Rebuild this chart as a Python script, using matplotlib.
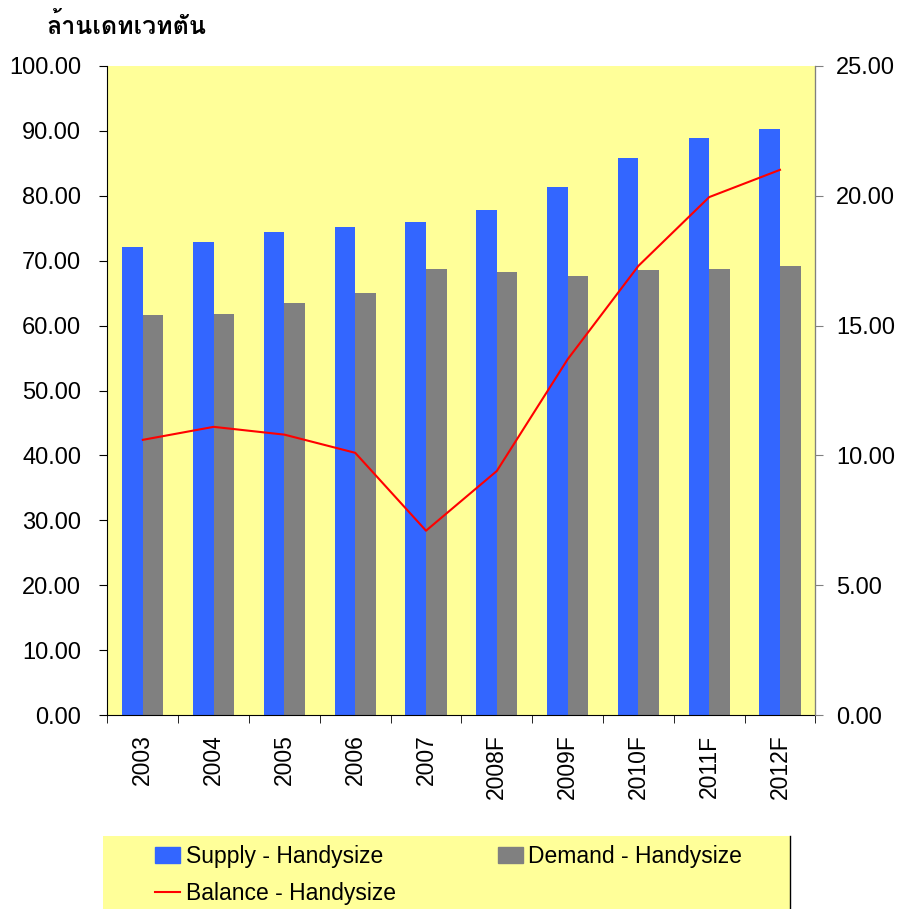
import matplotlib
matplotlib.use("Agg")
import matplotlib.pyplot as plt
from matplotlib import font_manager
from matplotlib.ft2font import FT2Font
from matplotlib.patches import Patch, Rectangle
from matplotlib.lines import Line2D
import numpy as np

years = ["2003", "2004", "2005", "2006", "2007", "2008F", "2009F", "2010F", "2011F", "2012F"]
supply = [72.1, 72.9, 74.4, 75.2, 76.0, 77.8, 81.4, 85.8, 88.9, 90.3]
demand = [61.6, 61.8, 63.5, 65.0, 68.7, 68.3, 67.6, 68.6, 68.7, 69.2]
balance = [10.6, 11.1, 10.8, 10.1, 7.1, 9.4, 13.7, 17.3, 19.95, 21.0]
unit_label = "ล้านเดทเวทตัน"


def thai_font():
    # look for an installed font that has Thai glyphs, bold files first
    found = []
    for f in font_manager.findSystemFonts():
        try:
            ft = FT2Font(f)
            if ft.get_char_index(ord("ล")) and ft.get_char_index(ord("น")):
                found.append(f)
        except Exception:
            pass
    if not found:
        return None
    found.sort(key=lambda f: (0 if "Bold" in f and "Oblique" not in f and "Italic" not in f else 1, len(f)))
    return font_manager.FontProperties(fname=found[0], weight="bold")


plt.rcParams["font.family"] = ["Liberation Sans", "DejaVu Sans"]

fig = plt.figure(figsize=(8.99, 9.09), dpi=100)
ax = fig.add_axes([0.1195, 0.2134, 0.7875, 0.714])
ax2 = ax.twinx()

x = np.arange(len(years))
w = 0.29
ax.bar(x - w / 2, supply, w, color="#3366FF", zorder=2)
ax.bar(x + w / 2, demand, w, color="#808080", zorder=2)
ax2.plot(x, balance, color="#FF0000", lw=1.5)

ax.set_facecolor("#FFFF99")
ax.set_xlim(-0.5, len(years) - 0.5)
ax.set_ylim(0, 100)
ax2.set_ylim(0, 25)
ax.set_yticks(np.arange(0, 101, 10))
ax.set_yticklabels(["%.2f" % v for v in np.arange(0, 101, 10)], fontsize=17)
ax2.set_yticks(np.arange(0, 26, 5))
ax2.set_yticklabels(["%.2f" % v for v in np.arange(0, 26, 5)], fontsize=17)

ax.set_xticks(x)
ax.set_xticklabels(years, rotation=90, fontsize=16.5)
ax.set_xticks(np.arange(-0.5, len(years)), minor=True)
ax.tick_params(axis="x", which="major", length=0, pad=14)
ax.tick_params(axis="x", which="minor", length=6)
ax.tick_params(axis="y", length=6, pad=13)
ax2.tick_params(axis="y", length=6, pad=9, color="#808080")

ax.spines["top"].set_visible(False)
ax2.spines["top"].set_visible(False)
ax2.spines["right"].set_color("#808080")
ax2.spines["left"].set_visible(False)
ax2.spines["bottom"].set_visible(False)

tf = thai_font()
if tf is not None:
    tf.set_size(18)
    fig.text(0.052, 0.971, unit_label, fontproperties=tf, va="center")
else:
    fig.text(0.052, 0.971, unit_label, fontsize=18, fontweight="bold", va="center")

# legend box: yellow background, black line on the right edge only
fig.patches.append(Rectangle((0.1146, 0.0), 0.7644, 0.0803, transform=fig.transFigure,
                             facecolor="#FFFF99", edgecolor="none", zorder=0))
fig.lines.append(Line2D([0.879, 0.879], [0.0, 0.0803], transform=fig.transFigure,
                        color="black", lw=1.0))

handles = [Patch(color="#3366FF"), Line2D([], [], color="#FF0000", lw=1.5), Patch(color="#808080")]
labels = ["Supply - Handysize", "Balance - Handysize", "Demand - Handysize"]
leg = fig.legend(handles, labels, ncol=2, loc="upper left",
                 bbox_to_anchor=(0.172, 0.0704), fontsize=16.5, frameon=False,
                 handlelength=1.1, handleheight=0.65, handletextpad=0.25,
                 borderaxespad=0, borderpad=0, labelspacing=0.6, columnspacing=4.45)

fig.savefig("out.png", dpi=100)
